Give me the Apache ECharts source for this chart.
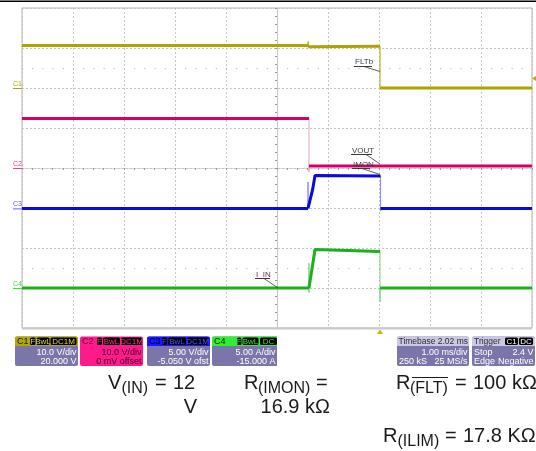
<!DOCTYPE html>
<html><head><meta charset="utf-8">
<script src="https://cdn.jsdelivr.net/npm/echarts@6/dist/echarts.min.js"></script>
<style>html,body{margin:0;padding:0;background:#fff;}#c{width:536px;height:451px;}</style>
</head><body><div id="c"></div>
<script>
// ---- data (time in ms relative to screen centre, 1.00 ms/div) ----
const timeMin = -5, timeMax = 5;
const divMin = -4, divMax = 4;
const triggerTime = 2.02;          // trigger position marker (ms)
const triggerLevelC1 = 2.4;        // V on C1

const channelNames = ['C1', 'C2', 'C3', 'C4'];
const channelScale = [10, 10, 5, 5];         // V/div or A/div
const channelOffset = [20, 0, -5.05, -15];   // V or A

// trace samples [ms, value]; equal consecutive times = fast vertical edge
const c1FLT  = [[-5,10.6],[0.61,10.6],[0.61,11.6],[0.61,10.3],[0.63,10.45],[2.02,10.45],[2.02,0],[5,0]];
const c2VOUT = [[-5,12.4],[0.627,12.4],[0.627,-1.0],[0.627,0.5],[5,0.5]];
const c3IMON = [[-5,0],[0.608,0],[0.608,3.3],[0.608,0],[0.647,0],[0.70,2.4],[0.745,4.1],[1.4,4.08],[2.03,4.05],[2.03,-0.3],[2.03,0],[5,0]];
const c4IIN  = [[-5,0],[0.627,0],[0.627,3.1],[0.627,-0.6],[0.627,0],[0.647,0],[0.745,4.8],[1.4,4.7],[2.02,4.55],[2.02,-1.75],[2.02,0],[5,0]];
const traces = [c1FLT, c2VOUT, c3IMON, c4IIN];

const traceColor = ['#aea400', '#d1006b', '#0a0ae0', '#19b019'];
const edgeColor  = ['#aea400', '#e9a3c9', '#8a8aff', '#7cd87c'];
const markerColor = ['#b0a800', '#ff3399', '#6060ff', '#40dd40'];

// ---- helpers ----
function thickData(d) {
  const out = [];
  d.forEach((p, i) => {
    if (i > 0 && p[0] === d[i - 1][0]) out.push([p[0], '-']);
    out.push(p);
  });
  return out;
}
const gridCol = '#c6c6c6';
const tickCol = '#9a9a9a';

const yAxes = [{
  type: 'value', min: divMin, max: divMax, interval: 1,
  axisLabel: { show: false },
  axisLine: { show: true, onZero: true, onZeroAxisIndex: 0, lineStyle: { color: gridCol, type: [2, 2] } },
  axisTick: { show: true, length: 2, lineStyle: { color: tickCol } },
  minorTick: { show: true, splitNumber: 5, length: 2, lineStyle: { color: tickCol } },
  splitLine: { show: true, lineStyle: { color: gridCol, type: [2, 2] } }
}];
channelNames.forEach((n, i) => {
  const centre = -channelOffset[i];
  yAxes.push({ type: 'value', show: false, min: centre + divMin * channelScale[i], max: centre + divMax * channelScale[i] });
});
yAxes.push({
  type: 'value', min: divMin, max: divMax, interval: 1,
  axisLabel: { show: false },
  axisLine: { show: true, onZero: true, onZeroAxisIndex: 0, lineStyle: { color: gridCol, type: [2, 2] } },
  axisTick: { show: true, inside: true, length: 2, lineStyle: { color: tickCol } },
  minorTick: { show: true, splitNumber: 5, length: 2, lineStyle: { color: tickCol } },
  splitLine: { show: false }
});

const xAxes = [{
  type: 'value', min: timeMin, max: timeMax, interval: 1,
  axisLabel: { show: false },
  axisLine: { show: true, onZero: true, onZeroAxisIndex: 0, lineStyle: { color: gridCol, type: [2, 2] } },
  axisTick: { show: true, length: 2, lineStyle: { color: tickCol } },
  minorTick: { show: true, splitNumber: 5, length: 2, lineStyle: { color: tickCol } },
  splitLine: { show: true, lineStyle: { color: gridCol, type: [2, 2] } }
}, {
  type: 'value', min: timeMin, max: timeMax, interval: 1,
  axisLabel: { show: false },
  axisLine: { show: true, onZero: true, onZeroAxisIndex: 0, lineStyle: { color: gridCol, type: [2, 2] } },
  axisTick: { show: true, inside: true, length: 2, lineStyle: { color: tickCol } },
  minorTick: { show: true, splitNumber: 5, length: 2, lineStyle: { color: tickCol } },
  splitLine: { show: false }
}];

const series = [{
  type: 'line', xAxisIndex: 0, yAxisIndex: 0, data: [], silent: true,
  markLine: { silent: true, symbol: 'none', label: { show: false },
    lineStyle: { color: '#a8a8a8', type: [1, 9.2], width: 1 },
    data: [{ yAxis: 2.5 }, { yAxis: -2.5 }] }
}];
traces.forEach((d, i) => {
  series.push({ type: 'line', name: channelNames[i] + ' edge', xAxisIndex: 0, yAxisIndex: i + 1, data: d,
    showSymbol: false, symbol: 'none', silent: true, z: 2,
    lineStyle: { color: edgeColor[i], width: 1 } });
  series.push({ type: 'line', name: channelNames[i], xAxisIndex: 0, yAxisIndex: i + 1, data: thickData(d),
    showSymbol: false, symbol: 'none', silent: true, z: 3, connectNulls: false,
    lineStyle: { color: traceColor[i], width: 3 } });
});

const chart = echarts.init(document.getElementById('c'), null, { renderer: 'canvas' });
chart.setOption({
  animation: false,
  backgroundColor: '#ffffff',
  grid: { left: 22, top: 8, width: 510, height: 320, show: true, borderColor: '#b4b4b4', borderWidth: 1, containLabel: false },
  xAxis: xAxes, yAxis: yAxes, series: series
});

// ---- decorations ----
const G = [];
const FF = '"Liberation Sans", Arial, sans-serif';
function txt(x, y, text, size, fill, align, z) {
  G.push({ type: 'text', silent: true, z: z || 100,
    style: { x: x, y: y, text: text, font: size + 'px ' + FF, fill: fill, align: align || 'left', verticalAlign: 'middle' } });
}
function rect(x, y, w, h, fill, r, z) {
  G.push({ type: 'rect', silent: true, z: z || 90, shape: { x: x, y: y, width: w, height: h, r: r || 0 }, style: { fill: fill } });
}
function line(x1, y1, x2, y2, stroke, w, z) {
  G.push({ type: 'line', silent: true, z: z || 95, shape: { x1: x1, y1: y1, x2: x2, y2: y2 }, style: { stroke: stroke, lineWidth: w || 1 } });
}
function badge(x, w, text, col) {
  rect(x, 337.5, w, 7.5, '#000', 1.5, 92);
  txt(x + w / 2, 341.5, text, 8, col, 'center', 101);
}

// top rule
rect(0, 0.5, 536, 1.6, '#000', 0, 90);
// bottom border emphasis
line(22, 328.5, 532, 328.5, '#c8c8c8', 2, 20);

// channel zero markers
channelNames.forEach((n, i) => {
  const y0 = chart.convertToPixel({ yAxisIndex: i + 1 }, 0);
  txt(13, y0 - 4, n, 7, markerColor[i], 'left');
  line(13, y0 + 0.5, 22, y0 + 0.5, markerColor[i], 1);
});
// trigger level (right) and trigger position (bottom)
const yTrig = chart.convertToPixel({ yAxisIndex: 1 }, triggerLevelC1);
G.push({ type: 'polygon', silent: true, z: 96, shape: { points: [[532, yTrig], [536, yTrig - 2.5], [536, yTrig + 2.5]] }, style: { fill: '#b8ae00' } });
const xTrig = chart.convertToPixel({ xAxisIndex: 0 }, triggerTime);
G.push({ type: 'polygon', silent: true, z: 96, shape: { points: [[xTrig, 329.5], [xTrig - 3, 334], [xTrig + 3, 334]] }, style: { fill: '#c8b800' } });

// trace annotations
txt(355, 62, 'FLTb', 8, '#3a3a3a'); line(354, 66.5, 372, 66.5, '#3a3a3a', 1); line(364, 66.5, 380, 71.5, '#3a3a3a', 0.8);
txt(352, 150.5, 'VOUT', 8, '#3a3a3a'); line(351, 154.5, 372, 154.5, '#3a3a3a', 1); line(366, 154.5, 380, 164, '#3a3a3a', 0.8);
txt(353, 164.5, 'IMON', 8, '#3a3a3a'); line(352, 168.5, 370, 168.5, '#3a3a3a', 1); line(362, 168.5, 380, 174.5, '#3a3a3a', 0.8);
txt(256, 274.5, 'I_IN', 8, '#6a3040'); line(255, 278.5, 270, 278.5, '#3a3a3a', 1); line(264, 278.5, 278, 288, '#3a3a3a', 0.8);

// info boxes
const BODY = '#7b76a9';
// C1
rect(15, 336.5, 63, 29.5, BODY, 2);
rect(15, 336.5, 63, 9.5, '#b3a700', [2, 2, 0, 0], 91);
txt(17, 341.5, 'C1', 9, '#1c1a00', 'left', 101);
badge(30, 5.5, 'F', '#e6da2a'); badge(36.5, 13, 'BwL', '#e6da2a'); badge(50.5, 26, 'DC1M', '#e6da2a');
txt(76.5, 352.5, '10.0 V/div', 9, '#fff', 'right'); txt(76.5, 361.5, '20.000 V', 9, '#fff', 'right');
// C2
rect(80, 336.5, 63, 29.5, '#ff1a8c', 2);
txt(82, 341.5, 'C2', 9, '#6a0034', 'left', 101);
badge(97, 5, 'F', '#ff3399'); badge(103, 17, 'BwL', '#ff3399'); badge(121, 21, 'DC1M', '#ff3399');
txt(141.5, 352.5, '10.0 V/div', 9, '#3d0022', 'right'); txt(141.5, 361.5, '0 mV offset', 9, '#3d0022', 'right');
// C3
rect(147, 336.5, 63, 29.5, BODY, 2);
rect(147, 336.5, 63, 9.5, '#1616ff', [2, 2, 0, 0], 91);
txt(149, 341.5, 'C3', 9, '#00003a', 'left', 101);
badge(162, 5, 'F', '#5050ff'); badge(168, 18, 'BwL', '#5050ff'); badge(187, 21, 'DC1M', '#5050ff');
txt(208.5, 352.5, '5.00 V/div', 9, '#fff', 'right'); txt(208.5, 361.5, '-5.050 V ofst', 9, '#fff', 'right');
// C4
rect(212, 336.5, 65, 29.5, BODY, [2, 0, 0, 2]);
rect(212, 336.5, 65, 9.5, '#30ee30', [2, 0, 0, 0], 91);
txt(214, 341.5, 'C4', 9, '#002a00', 'left', 101);
badge(237, 4.5, 'F', '#30ee30'); badge(242.5, 16, 'BwL', '#30ee30'); badge(260, 17, 'DC', '#30ee30');
txt(275.5, 352.5, '5.00 A/div', 9, '#fff', 'right'); txt(275.5, 361.5, '-15.000 A', 9, '#fff', 'right');
// Timebase
rect(397, 336.5, 72, 29.5, BODY, 2);
rect(397, 336.5, 72, 9.5, '#cbc7e4', [2, 2, 0, 0], 91);
txt(398.5, 341.5, 'Timebase', 8.5, '#2a2a3a', 'left', 101); txt(468, 341.5, '2.02 ms', 8.5, '#2a2a3a', 'right', 101);
txt(467.5, 352.5, '1.00 ms/div', 9, '#fff', 'right');
txt(399, 361.5, '250 kS', 9, '#fff'); txt(467.5, 361.5, '25 MS/s', 9, '#fff', 'right');
// Trigger
rect(472, 336.5, 63, 29.5, BODY, 2);
rect(472, 336.5, 63, 9.5, '#cbc7e4', [2, 2, 0, 0], 91);
txt(474, 341.5, 'Trigger', 8.5, '#2a2a3a', 'left', 101);
badge(505, 13, 'C1', '#fff'); badge(519, 14, 'DC', '#fff');
txt(533.5, 352.5, '2.4 V', 9, '#fff', 'right'); txt(474, 352.5, 'Stop', 9, '#fff');
txt(474, 361.5, 'Edge', 9, '#fff'); txt(533.5, 361.5, 'Negative', 9, '#fff', 'right');

// condition texts
const TC = '#1a1a1a';
const BIG = 20, SUB = 16;
txt(108, 383.5, 'V', BIG, TC); txt(121.5, 388.5, '(IN)', SUB, TC); txt(155, 383.5, '=', BIG, TC); txt(173, 383.5, '12', BIG, TC);
txt(197, 407.5, 'V', BIG, TC, 'right');
txt(244, 383.5, 'R', BIG, TC); txt(258, 388.5, '(IMON)', SUB, TC); txt(316, 383.5, '=', BIG, TC);
txt(330, 407.5, '16.9 k\u03A9', BIG, TC, 'right');
txt(396, 383.5, 'R', BIG, TC); txt(410, 388.5, '(FLT)', SUB, TC); line(412, 377.5, 448, 377.5, TC, 1.2);
txt(455, 383.5, '=', BIG, TC); txt(473, 383.5, '100 k\u03A9', BIG, TC);
txt(383, 436.5, 'R', BIG, TC); txt(397.5, 441.5, '(ILIM)', SUB, TC); txt(445, 436.5, '=', BIG, TC); txt(463, 436.5, '17.8 K\u03A9', BIG, TC);

chart.setOption({ graphic: G });
</script>
</body></html>
